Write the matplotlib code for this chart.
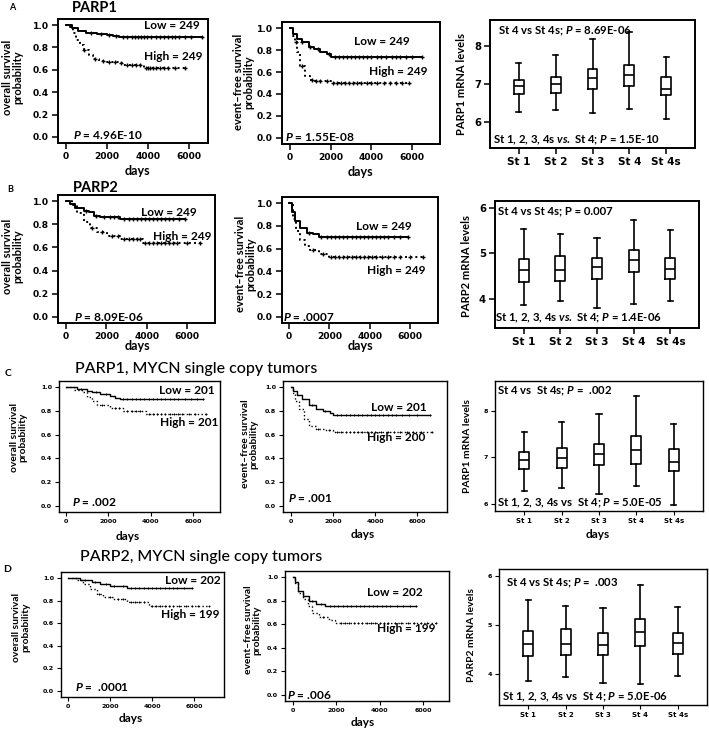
import numpy as np
import matplotlib.pyplot as plt

plt.rcParams['font.family'] = ['Lato', 'DejaVu Sans']
plt.rcParams['mathtext.fontset'] = 'custom'
plt.rcParams['mathtext.rm'] = 'Lato:bold'
plt.rcParams['mathtext.it'] = 'Lato:italic:bold'
plt.rcParams['mathtext.bf'] = 'Lato:bold'

W, H = 709, 729

# ---------------- Kaplan-Meier curves (days, survival probability) ----------------
# A  PARP1, overall survival
a_os_low_t = [0, 300, 600, 1000, 1500, 2000, 2300, 2600]
a_os_low_s = [1.0, 0.97, 0.95, 0.93, 0.92, 0.91, 0.90, 0.89]
a_os_low_end = 6650
a_os_low_cens = [1200, 1700, 2100, 2450, 2800, 3000, 3200, 3350, 3500, 3650, 3800, 3950,
                 4150, 4400, 4600, 4800, 5000, 5150, 5300, 5500, 5800, 6100, 6650]
a_os_high_t = [0, 200, 350, 500, 700, 900, 1100, 1300, 1600, 2000, 2600, 2800, 3800]
a_os_high_s = [1.0, 0.98, 0.93, 0.87, 0.82, 0.78, 0.73, 0.70, 0.68, 0.67, 0.665, 0.645, 0.615]
a_os_high_end = 5800
a_os_high_cens = [900, 1400, 1800, 2100, 2400, 2700, 3000, 3200, 3400, 3600, 3900, 4000,
                  4100, 4250, 4400, 4600, 4800, 5000, 5300, 5800]

# A  PARP1, event-free survival
a_efs_low_t = [0, 170, 330, 580, 920, 1170, 1500, 1830, 2000]
a_efs_low_s = [1.0, 0.95, 0.90, 0.87, 0.825, 0.81, 0.785, 0.76, 0.735]
a_efs_low_end = 6500
a_efs_low_cens = [600, 1000, 1400, 1900, 2200, 2400, 2600, 2800, 3000, 3200, 3400, 3600, 3800,
                  4000, 4300, 4500, 4700, 5000, 5200, 5400, 5700, 6000, 6500]
a_efs_high_t = [0, 130, 250, 330, 500, 750, 1000, 1250, 2000]
a_efs_high_s = [1.0, 0.93, 0.87, 0.78, 0.655, 0.56, 0.53, 0.515, 0.497]
a_efs_high_end = 5850
a_efs_high_cens = [300, 600, 1100, 1300, 1500, 1800, 2100, 2300, 2500, 2700, 2900, 3100, 3300,
                   3500, 3800, 4000, 4300, 4600, 4900, 5200, 5500, 5850]

# B  PARP2, overall survival
b_os_low_t = [0, 215, 460, 880, 1120, 1370, 1700, 2700]
b_os_low_s = [1.0, 0.98, 0.94, 0.92, 0.905, 0.87, 0.86, 0.85]
b_os_low_end = 5900
b_os_low_cens = [1000, 1500, 1900, 2200, 2400, 2600, 2900, 3100, 3300, 3500, 3700, 3900, 4100,
                 4300, 4500, 4700, 4900, 5100, 5300, 5600, 5900]
b_os_high_t = [0, 300, 550, 880, 1200, 1540, 2030, 2700, 3800]
b_os_high_s = [1.0, 0.965, 0.90, 0.82, 0.77, 0.73, 0.70, 0.675, 0.64]
b_os_high_end = 6650
b_os_high_cens = [1300, 1800, 2300, 2600, 2900, 3100, 3300, 3500, 3650, 3900, 4100, 4300, 4500,
                  4700, 4900, 5100, 5300, 5500, 6000, 6650]

# B  PARP2, event-free survival
b_efs_low_t = [0, 145, 300, 550, 870, 1190, 1500]
b_efs_low_s = [1.0, 0.92, 0.84, 0.78, 0.74, 0.725, 0.70]
b_efs_low_end = 5900
b_efs_low_cens = [1000, 1600, 1900, 2100, 2300, 2500, 2700, 2900, 3100, 3300, 3500, 3700, 3900,
                  4100, 4300, 4500, 4700, 4900, 5200, 5500, 5900]
b_efs_high_t = [0, 190, 350, 550, 790, 1030, 1500, 2000]
b_efs_high_s = [1.0, 0.86, 0.755, 0.68, 0.62, 0.59, 0.555, 0.53]
b_efs_high_end = 6650
b_efs_high_cens = [1200, 1700, 2100, 2300, 2500, 2700, 2900, 3100, 3300, 3500, 3700, 3900, 4100,
                   4300, 4600, 4900, 5200, 5500, 6000, 6650]

# C  PARP1, MYCN single copy, overall survival
c_os_low_t = [0, 515, 980, 1220, 1610, 2080, 2310, 2550]
c_os_low_s = [1.0, 0.986, 0.972, 0.958, 0.944, 0.93, 0.915, 0.90]
c_os_low_end = 6450
c_os_low_cens = [700, 1400, 1900, 2700, 2900, 3100, 3300, 3500, 3700, 3900, 4100, 4300, 4500,
                 4700, 4900, 5100, 5300, 5600, 5900, 6200, 6450]
c_os_high_t = [0, 360, 750, 980, 1220, 1450, 2080, 2700, 3800]
c_os_high_s = [1.0, 0.977, 0.958, 0.92, 0.887, 0.853, 0.83, 0.80, 0.772]
c_os_high_end = 6600
c_os_high_cens = [1700, 2300, 2500, 2900, 3100, 3300, 3500, 3900, 4100, 4300, 4500, 4700, 4900,
                  5100, 5300, 5500, 5800, 6100, 6600]

# C  PARP1, MYCN single copy, event-free survival
c_efs_low_t = [0, 115, 280, 520, 850, 1180, 1500, 1840, 2000]
c_efs_low_s = [1.0, 0.97, 0.934, 0.90, 0.85, 0.82, 0.80, 0.785, 0.765]
c_efs_low_end = 6600
c_efs_low_cens = [1000, 1600, 2200, 2400, 2600, 2800, 3000, 3200, 3400, 3600, 3800, 4000, 4200,
                  4400, 4600, 4800, 5000, 5300, 5600, 6000, 6600]
c_efs_high_t = [0, 80, 200, 360, 600, 850, 1180, 1590, 2000]
c_efs_high_s = [1.0, 0.957, 0.886, 0.814, 0.73, 0.67, 0.65, 0.637, 0.625]
c_efs_high_end = 6700
c_efs_high_cens = [1300, 1800, 2200, 2400, 2600, 2800, 3000, 3200, 3400, 3600, 3800, 4000, 4300,
                   4600, 4900, 5200, 5500, 5800, 6200, 6700]

# D  PARP2, MYCN single copy, overall survival
d_os_low_t = [0, 560, 880, 1120, 1520, 2000, 2400, 2800]
d_os_low_s = [1.0, 0.985, 0.98, 0.965, 0.95, 0.935, 0.927, 0.915]
d_os_low_end = 5900
d_os_low_cens = [800, 1300, 1800, 2200, 2600, 3000, 3200, 3400, 3600, 3800, 4000, 4200, 4400,
                 4600, 4800, 5000, 5200, 5500, 5900]
d_os_high_t = [0, 400, 720, 1040, 1360, 1680, 2160, 2800, 3840]
d_os_high_s = [1.0, 0.98, 0.95, 0.906, 0.863, 0.833, 0.813, 0.79, 0.75]
d_os_high_end = 6700
d_os_high_cens = [1500, 2000, 2400, 2600, 3000, 3200, 3400, 3600, 4000, 4200, 4400, 4600, 4800,
                  5000, 5300, 5600, 5900, 6200, 6700]

# D  PARP2, MYCN single copy, event-free survival
d_efs_low_t = [0, 75, 225, 450, 750, 1050, 1500]
d_efs_low_s = [1.0, 0.957, 0.886, 0.843, 0.80, 0.777, 0.757]
d_efs_low_end = 5700
d_efs_low_cens = [900, 1300, 1700, 1900, 2100, 2300, 2500, 2700, 2900, 3100, 3300, 3500, 3700,
                  3900, 4100, 4300, 4500, 4800, 5100, 5400, 5700]
d_efs_high_t = [0, 75, 225, 450, 680, 900, 1200, 1650, 1950]
d_efs_high_s = [1.0, 0.95, 0.87, 0.814, 0.757, 0.70, 0.663, 0.637, 0.612]
d_efs_high_end = 6600
d_efs_high_cens = [1400, 2200, 2400, 2600, 2800, 3000, 3200, 3400, 3600, 3800, 4000, 4200, 4400,
                   4700, 5000, 5300, 5600, 5900, 6200, 6600]

# ---------------- Boxplots of mRNA levels by stage ----------------
stages = ['St 1', 'St 2', 'St 3', 'St 4', 'St 4s']

a_med = [6.95, 7.00, 7.16, 7.24, 6.87]
a_q1 = [6.74, 6.77, 6.87, 6.95, 6.71]
a_q3 = [7.10, 7.18, 7.39, 7.50, 7.18]
a_lo = [6.26, 6.32, 6.24, 6.34, 6.08]
a_hi = [7.55, 7.76, 8.18, 8.37, 7.71]

b_med = [4.63, 4.63, 4.71, 4.85, 4.66]
b_q1 = [4.38, 4.39, 4.44, 4.59, 4.43]
b_q3 = [4.87, 4.94, 4.89, 5.07, 4.89]
b_lo = [3.86, 3.95, 3.81, 3.88, 3.95]
b_hi = [5.53, 5.42, 5.34, 5.73, 5.51]

c_med = [6.94, 6.99, 7.07, 7.16, 6.90]
c_q1 = [6.75, 6.77, 6.83, 6.85, 6.70]
c_q3 = [7.12, 7.20, 7.28, 7.47, 7.19]
c_lo = [6.27, 6.34, 6.22, 6.38, 5.97]
c_hi = [7.54, 7.76, 7.93, 8.31, 7.72]

d_med = [4.61, 4.61, 4.59, 4.85, 4.63]
d_q1 = [4.37, 4.39, 4.39, 4.57, 4.41]
d_q3 = [4.88, 4.91, 4.83, 5.12, 4.83]
d_lo = [3.86, 3.95, 3.81, 3.80, 3.96]
d_hi = [5.51, 5.39, 5.34, 5.82, 5.36]


fig = plt.figure(figsize=(W / 100, H / 100), dpi=100)


def px_axes(x0, y0, x1, y1):
    return fig.add_axes([x0 / W, 1 - y1 / H, (x1 - x0) / W, (y1 - y0) / H])


def ftext(x, y, s, **kw):
    fig.text(x / W, 1 - y / H, s, **kw)


def style_axes(ax, fine):
    lw = 1.0 if fine else 1.4
    for sp in ax.spines.values():
        sp.set_linewidth(lw)
    ax.tick_params(direction='out', length=3 if fine else 4, width=lw * 0.8, pad=2 if fine else 2.5)
    fs = 4.6 if fine else 6.6
    for lab in ax.get_xticklabels() + ax.get_yticklabels():
        lab.set_fontfamily('DejaVu Sans')
        lab.set_fontweight('bold')
        lab.set_fontsize(fs)


def km_curve(ax, t, s, end, cens, ls, lw, ms):
    tt = list(t) + [end]
    ss = list(s) + [s[-1]]
    ax.step(tt, ss, where='post', color='k', ls=ls, lw=lw)
    idx = np.searchsorted(t, cens, side='right') - 1
    ax.plot(cens, np.array(s)[idx], ls='none', marker='+', ms=ms, mew=lw * 0.7, color='k')


def km_panel(rect, low, high, xlim, ylabel, low_txt, high_txt, p_txt, fine):
    ax = px_axes(*rect)
    lw = 1.0 if fine else 1.4
    ms = 1.6 if fine else 3.2
    km_curve(ax, *low, ls='-', lw=lw, ms=ms)
    km_curve(ax, *high, ls=':', lw=lw, ms=ms)
    ax.set_xlim(*xlim)
    ax.set_ylim(-0.055, 1.055)
    ax.set_xticks([0, 2000, 4000, 6000])
    ax.set_yticks([0.0, 0.2, 0.4, 0.6, 0.8, 1.0])
    ax.set_yticklabels(['0.0', '0.2', '0.4', '0.6', '0.8', '1.0'])
    style_axes(ax, fine)
    fs = 8.6
    ax.text(low_txt[0], low_txt[1], low_txt[2], transform=ax.transAxes, ha='right', va='center',
            fontsize=fs, fontweight='bold')
    ax.text(high_txt[0], high_txt[1], high_txt[2], transform=ax.transAxes, ha='right', va='center',
            fontsize=fs, fontweight='bold')
    ax.text(p_txt[0], p_txt[1], p_txt[2], transform=ax.transAxes, ha='left', va='center',
            fontsize=fs, fontweight='bold')
    ax.text(ylabel[0], ylabel[1], ylabel[2], transform=ax.transAxes, rotation=90, ha='center',
            va='center', fontsize=7.4 if fine else 8.0, fontweight='bold', linespacing=0.95)
    return ax


def box_panel(rect, med, q1, q3, lo, hi, ylim, yticks, ylabel, top_txt, bot_txt, fine):
    ax = px_axes(*rect)
    stats = [dict(med=m, q1=a, q3=b, whislo=l, whishi=h, label=n)
             for m, a, b, l, h, n in zip(med, q1, q3, lo, hi, stages)]
    lw = 1.2
    ax.bxp(stats, positions=range(1, 6), widths=0.27, capwidths=0.14, showfliers=False,
           boxprops=dict(lw=lw, color='k'), medianprops=dict(lw=lw, color='k'),
           whiskerprops=dict(lw=lw, color='k'), capprops=dict(lw=lw, color='k'))
    ax.set_xlim(0.22, 5.78)
    ax.set_ylim(*ylim)
    ax.set_yticks(yticks)
    style_axes(ax, fine)
    for lab in ax.get_xticklabels():
        lab.set_fontsize(5.0 if fine else 7.6)
    if not fine:
        for lab in ax.get_yticklabels():
            lab.set_fontsize(7.2)
    ax.text(top_txt[0], top_txt[1], top_txt[2], transform=ax.transAxes, ha='left', va='center',
            fontsize=8.2, fontweight='bold')
    ax.text(bot_txt[0], bot_txt[1], bot_txt[2], transform=ax.transAxes, ha='left', va='center',
            fontsize=8.2, fontweight='bold')
    ax.text(ylabel[0], ylabel[1], ylabel[2], transform=ax.transAxes, rotation=90, ha='center',
            va='center', fontsize=7.4 if fine else 8.0, fontweight='bold')
    return ax


os_lab = 'overall survival\nprobability'
efs_lab = 'event\u2013free survival\nprobability'

# ---- row A
ftext(12, 8, 'A', fontsize=6.5, fontweight='bold', ha='center', va='center')
ftext(72, 8, 'PARP1', fontsize=10.5, fontweight='bold', ha='left', va='center')
km_panel((58, 19, 208, 143),
         (a_os_low_t, a_os_low_s, a_os_low_end, a_os_low_cens),
         (a_os_high_t, a_os_high_s, a_os_high_end, a_os_high_cens),
         (-390, 6930), (-0.30, 0.53, os_lab),
         (0.947, 0.944, 'Low = 249'), (0.96, 0.694, 'High = 249'),
         (0.10, 0.065, '$P$ = 4.96E-10'), False)
km_panel((282, 22, 440, 144),
         (a_efs_low_t, a_efs_low_s, a_efs_low_end, a_efs_low_cens),
         (a_efs_high_t, a_efs_high_s, a_efs_high_end, a_efs_high_cens),
         (-393, 7377), (-0.245, 0.51, efs_lab),
         (0.81, 0.844, 'Low = 249'), (0.918, 0.598, 'High = 249'),
         (0.019, 0.057, '$P$ = 1.55E-08'), False)
box_panel((490, 20, 695, 148), a_med, a_q1, a_q3, a_lo, a_hi, (5.32, 8.68), [6, 7, 8],
          (-0.137, 0.5, 'PARP1 mRNA levels'),
          (0.039, 0.914, 'St 4 vs St 4s; $P$ = 8.69E-06'),
          (0.015, 0.0625, 'St 1, 2, 3, 4s $\\mathit{vs.}$ St 4; $P$ = 1.5E-10'), False)
ftext(137, 171, 'days', fontsize=9, fontweight='bold', ha='center', va='center')
ftext(360, 172, 'days', fontsize=9, fontweight='bold', ha='center', va='center')

# ---- row B
ftext(10, 190, 'B', fontsize=6.5, fontweight='bold', ha='center', va='center')
ftext(73, 188, 'PARP2', fontsize=10.5, fontweight='bold', ha='left', va='center')
km_panel((58, 195, 215, 323),
         (b_os_low_t, b_os_low_s, b_os_low_end, b_os_low_cens),
         (b_os_high_t, b_os_high_s, b_os_high_end, b_os_high_cens),
         (-397, 7388), (-0.29, 0.52, os_lab),
         (0.885, 0.867, 'Low = 249'), (0.98, 0.672, 'High = 249'),
         (0.10, 0.047, '$P$ = 8.09E-06'), False)
km_panel((282, 197, 438, 323),
         (b_efs_low_t, b_efs_low_s, b_efs_low_end, b_efs_low_cens),
         (b_efs_high_t, b_efs_high_s, b_efs_high_end, b_efs_high_cens),
         (-347, 7387), (-0.235, 0.47, efs_lab),
         (0.833, 0.762, 'Low = 249'), (0.917, 0.42, 'High = 249'),
         (0.006, 0.048, '$P$ = .0007'), False)
box_panel((495, 201, 699, 328), b_med, b_q1, b_q3, b_lo, b_hi, (3.36, 6.15), [4, 5, 6],
          (-0.142, 0.49, 'PARP2 mRNA levels'),
          (0.015, 0.92, 'St 4 vs St 4s; P = 0.007'),
          (0.0, 0.079, 'St 1, 2, 3, 4s $\\mathit{vs.}$ St 4; $P$ = 1.4E-06'), False)
ftext(137, 346, 'days', fontsize=9, fontweight='bold', ha='center', va='center')
ftext(360, 346, 'days', fontsize=9, fontweight='bold', ha='center', va='center')

# ---- row C
ftext(8, 374, 'C', fontsize=7.5, fontweight='bold', ha='center', va='center')
ftext(196, 369, 'PARP1, MYCN single copy tumors', fontsize=11.5, fontweight='medium',
      ha='center', va='center')
km_panel((59, 381, 220, 512),
         (c_os_low_t, c_os_low_s, c_os_low_end, c_os_low_cens),
         (c_os_high_t, c_os_high_s, c_os_high_end, c_os_high_cens),
         (-331, 7275), (-0.25, 0.57, os_lab),
         (0.969, 0.931, 'Low = 201'), (0.988, 0.687, 'High = 201'),
         (0.081, 0.076, '$P$ = .002'), True)
km_panel((283, 381, 447, 512),
         (c_efs_low_t, c_efs_low_s, c_efs_low_end, c_efs_low_cens),
         (c_efs_high_t, c_efs_high_s, c_efs_high_end, c_efs_high_cens),
         (-381, 7428), (-0.205, 0.52, efs_lab),
         (0.878, 0.80, 'Low = 201'), (0.866, 0.565, 'High = 200'),
         (0.03, 0.107, '$P$ = .001'), True)
box_panel((495, 381, 703, 511), c_med, c_q1, c_q3, c_lo, c_hi, (5.85, 8.64), [6, 7, 8],
          (-0.13, 0.5, 'PARP1 mRNA levels'),
          (0.01, 0.923, 'St 4 vs  St 4s; $P$ =  .002'),
          (0.01, 0.06, 'St 1, 2, 3, 4s vs  St 4; $P$ = 5.0E-05'), True)
ftext(128, 536, 'days', fontsize=8.5, fontweight='bold', ha='center', va='center')
ftext(363, 534, 'days', fontsize=8.5, fontweight='bold', ha='center', va='center')
ftext(598, 534, 'days', fontsize=8.5, fontweight='bold', ha='center', va='center')

# ---- row D
ftext(7, 569, 'D', fontsize=7.5, fontweight='bold', ha='center', va='center')
ftext(201, 557, 'PARP2, MYCN single copy tumors', fontsize=11.5, fontweight='medium',
      ha='center', va='center')
km_panel((61, 572, 224, 697),
         (d_os_low_t, d_os_low_s, d_os_low_end, d_os_low_cens),
         (d_os_high_t, d_os_high_s, d_os_high_end, d_os_high_cens),
         (-333, 7428), (-0.245, 0.556, os_lab),
         (0.982, 0.936, 'Low = 202'), (0.975, 0.656, 'High = 199'),
         (0.086, 0.08, '$P$ =  .0001'), True)
km_panel((285, 571, 449, 701),
         (d_efs_low_t, d_efs_low_s, d_efs_low_end, d_efs_low_cens),
         (d_efs_high_t, d_efs_high_s, d_efs_high_end, d_efs_high_cens),
         (-369, 7200), (-0.195, 0.546, efs_lab),
         (0.841, 0.831, 'Low = 202'), (0.915, 0.554, 'High = 199'),
         (0.012, 0.046, '$P$ = .006'), True)
box_panel((499, 569, 707, 705), d_med, d_q1, d_q3, d_lo, d_hi, (3.37, 6.14), [4, 5, 6],
          (-0.13, 0.515, 'PARP2 mRNA levels'),
          (0.034, 0.897, 'St 4 vs St 4s; $P$ =  .003'),
          (0.014, 0.059, 'St 1, 2, 3, 4s vs  St 4; $P$ = 5.0E-06'), True)
ftext(131, 718, 'days', fontsize=8.5, fontweight='bold', ha='center', va='center')
ftext(363, 722, 'days', fontsize=8.5, fontweight='bold', ha='center', va='center')

fig.savefig('out.png', dpi=100, facecolor='white')
